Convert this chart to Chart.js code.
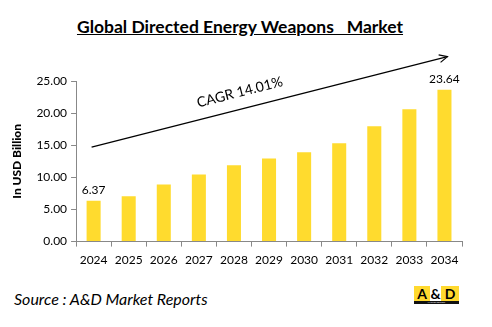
<!DOCTYPE html>
<html>
<head>
<meta charset="utf-8">
<script src="https://cdn.jsdelivr.net/npm/chart.js@4"></script>
<style>
  body { margin: 0; background: #fff; }
  #wrap { position: relative; width: 492px; height: 327px; font-family: Lato, "Open Sans", sans-serif; }
  #title { position: absolute; left: 0; width: 480px; top: 16px; text-align: center; font-weight: bold; font-size: 17.5px; text-decoration: underline; white-space: pre; color: #000; }
  #chartBox { position: absolute; left: 0; top: 50px; width: 492px; height: 230px; }
  #source { position: absolute; left: 14px; top: 289px; font-style: italic; font-size: 16px; color: #000; }
  #logo { position: absolute; left: 414px; top: 286px; width: 45px; height: 18px; }
  #logo .top { display: flex; height: 15px; font-weight: bold; font-size: 14px; line-height: 15px; }
  #logo .top span { display: block; text-align: center; color: #000; }
  #logo .bar { height: 3px; background: #111; color: #fff; font-size: 2px; line-height: 3px; text-align: center; }
</style>
</head>
<body>
<div id="wrap">
  <div id="title">Global Directed Energy Weapons   Market</div>
  <div id="chartBox"><canvas id="myChart"></canvas></div>
  <div id="source">Source : A&amp;D Market Reports</div>
  <div id="logo">
    <div class="top"><span style="width:16px;background:#FFD92F">A</span><span style="width:11px;background:#fff">&amp;</span><span style="width:18px;background:#FFD92F">D</span></div>
    <div class="bar">MARKET REPORTS</div>
  </div>
</div>
<script>
const years = ['2024', '2025', '2026', '2027', '2028', '2029', '2030', '2031', '2032', '2033', '2034'];
const marketSize = [6.37, 7.05, 8.9, 10.45, 11.9, 12.95, 13.9, 15.3, 17.95, 20.6, 23.64];
const labelled = [0, 10];
const cagrText = 'CAGR 14.01%';
const arrowFrom = 14.7;
const arrowTo = 28.8;

const extras = {
  id: 'extras',
  afterDatasetsDraw(chart) {
    const ctx = chart.ctx;
    const x = chart.scales.x, y = chart.scales.y;
    const meta = chart.getDatasetMeta(0);
    ctx.save();
    // value labels
    ctx.fillStyle = '#000';
    ctx.font = '12px Lato, "Open Sans", sans-serif';
    ctx.textAlign = 'center';
    ctx.textBaseline = 'bottom';
    labelled.forEach(i => {
      const bar = meta.data[i];
      ctx.fillText(marketSize[i].toFixed(2), bar.x, bar.y - 5);
    });
    // trend arrow
    const x1 = x.getPixelForValue(0) - 2, y1 = y.getPixelForValue(arrowFrom);
    const x2 = x.getPixelForValue(10) + 3, y2 = y.getPixelForValue(arrowTo);
    ctx.strokeStyle = '#000';
    ctx.lineWidth = 1.2;
    ctx.beginPath();
    ctx.moveTo(x1, y1);
    ctx.lineTo(x2, y2);
    ctx.stroke();
    const ang = Math.atan2(y2 - y1, x2 - x1);
    ctx.beginPath();
    ctx.moveTo(x2 - 9 * Math.cos(ang - 0.45), y2 - 9 * Math.sin(ang - 0.45));
    ctx.lineTo(x2, y2);
    ctx.lineTo(x2 - 9 * Math.cos(ang + 0.45), y2 - 9 * Math.sin(ang + 0.45));
    ctx.stroke();
    // CAGR text
    const mx = (x1 + x2) / 2 - 28, my = y1 + (y2 - y1) * ((mx - x1) / (x2 - x1)) - 10;
    ctx.translate(mx, my);
    ctx.rotate(ang);
    ctx.font = '14px Lato, "Open Sans", sans-serif';
    ctx.textBaseline = 'bottom';
    ctx.fillText(cagrText, 0, 0);
    ctx.restore();
  }
};

new Chart(document.getElementById('myChart'), {
  type: 'bar',
  data: {
    labels: years,
    datasets: [{
      data: marketSize,
      backgroundColor: '#FFDB2E',
      barPercentage: 0.4,
      categoryPercentage: 1
    }]
  },
  options: {
    responsive: true,
    maintainAspectRatio: false,
    animation: false,
    layout: { padding: { top: 31, right: 30, bottom: 7, left: 10 } },
    scales: {
      x: {
        grid: { display: true, drawOnChartArea: false, offset: true, color: '#888', tickLength: 5 },
        border: { color: '#888' },
        ticks: { color: '#000', font: { family: 'Lato', size: 12 }, padding: 6 }
      },
      y: {
        min: 0, max: 25,
        grid: { display: true, drawOnChartArea: false, color: '#888', tickLength: 5 },
        border: { color: '#888' },
        ticks: { stepSize: 5, color: '#000', font: { family: 'Lato', size: 12 }, padding: 4,
          callback: v => v.toFixed(2) },
        title: { display: true, text: 'In USD Billion', color: '#000', font: { family: 'Lato', size: 12, weight: '900' }, padding: { top: 0, bottom: 8 } }
      }
    },
    plugins: {
      legend: { display: false },
      tooltip: { enabled: false }
    }
  },
  plugins: [extras]
});
</script>
</body>
</html>
